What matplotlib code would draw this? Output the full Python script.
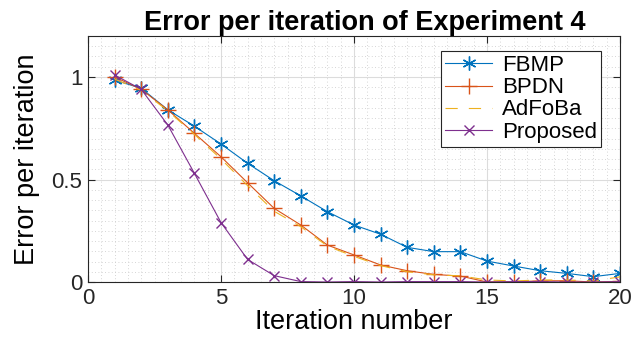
import numpy as np
from matplotlib import pyplot as plt
from matplotlib.ticker import MultipleLocator

# Iterations and error curves
iterations = np.arange(1, 21)
fbmp = [0.985, 0.945, 0.84, 0.76, 0.673, 0.579, 0.494, 0.42, 0.343, 0.278,
        0.233, 0.169, 0.148, 0.148, 0.102, 0.078, 0.055, 0.042, 0.026, 0.042]
bpdn = [1.0, 0.94, 0.84, 0.725, 0.611, 0.484, 0.359, 0.278, 0.18, 0.132,
        0.083, 0.055, 0.037, 0.029, 0.0, 0.0, 0.006, 0.006, 0.0, 0.003]
adfoba = [0.99, 0.935, 0.835, 0.72, 0.6, 0.47, 0.345, 0.27, 0.175, 0.125,
          0.08, 0.05, 0.035, 0.03, 0.01, 0.005, 0.01, 0.01, 0.005, 0.025]
proposed = [1.01, 0.94, 0.766, 0.53, 0.29, 0.11, 0.031, 0.002, 0.0, 0.002,
            0.0, 0.002, 0.002, 0.002, 0.0, 0.002, 0.002, 0.0, 0.0, 0.002]

plt.rcParams['font.family'] = ['Liberation Sans', 'DejaVu Sans']

fig = plt.figure(figsize=(6.39, 3.43), dpi=100)
ax = fig.add_axes([88 / 639, 1 - 282 / 343, 532 / 639, 246 / 343])

# matlab style asterisk
asterisk = (6, 2, 0)

ax.plot(iterations, fbmp, color='#0072BD', marker=asterisk, markersize=10,
        markeredgewidth=1.0, linewidth=0.8, label='FBMP')
ax.plot(iterations, bpdn, color='#D95319', marker='+', markersize=11,
        markeredgewidth=1.0, linewidth=0.8, label='BPDN')
ax.plot(iterations, adfoba, color='#EDB120', linestyle=(0, (11, 10)),
        linewidth=0.8, label='AdFoBa')
ax.plot(iterations, proposed, color='#7E2F8E', marker='x', markersize=7,
        markeredgewidth=1.0, linewidth=0.8, label='Proposed')

ax.set_xlim(0, 20)
ax.set_ylim(0, 1.2)
ax.set_xticks([0, 5, 10, 15, 20])
ax.set_yticks([0, 0.5, 1])
ax.set_yticklabels(['0', '0.5', '1'])
ax.xaxis.set_minor_locator(MultipleLocator(0.5))
ax.yaxis.set_minor_locator(MultipleLocator(0.05))
ax.grid(which='major', color='#dcdcdc', linewidth=0.8)
ax.grid(which='minor', color='#c8c8c8', linestyle=(0, (1, 3)), linewidth=0.6)
ax.set_axisbelow(True)
ax.tick_params(which='both', direction='in', top=True, right=True,
               labelsize=16, pad=4, colors='#262626')
ax.tick_params(which='minor', length=0)
ax.tick_params(which='major', length=5)
for sp in ax.spines.values():
    sp.set_linewidth(0.8)
    sp.set_color('#262626')

ax.set_xlabel('Iteration number', fontsize=19.5, labelpad=0)
ax.set_ylabel('Error per iteration', fontsize=19.5, labelpad=8)
ax.set_title('Error per iteration of Experiment 4', fontsize=19.5,
             fontweight='bold', pad=4, x=0.52)

leg = ax.legend(loc='upper right', fontsize=16, fancybox=False,
                framealpha=1, edgecolor='#262626', borderpad=0.2,
                labelspacing=0.05, handlelength=2.1, handletextpad=0.45,
                borderaxespad=0, bbox_to_anchor=(0.965, 0.94))
leg.get_frame().set_linewidth(0.8)

fig.savefig('out.png', dpi=100)
